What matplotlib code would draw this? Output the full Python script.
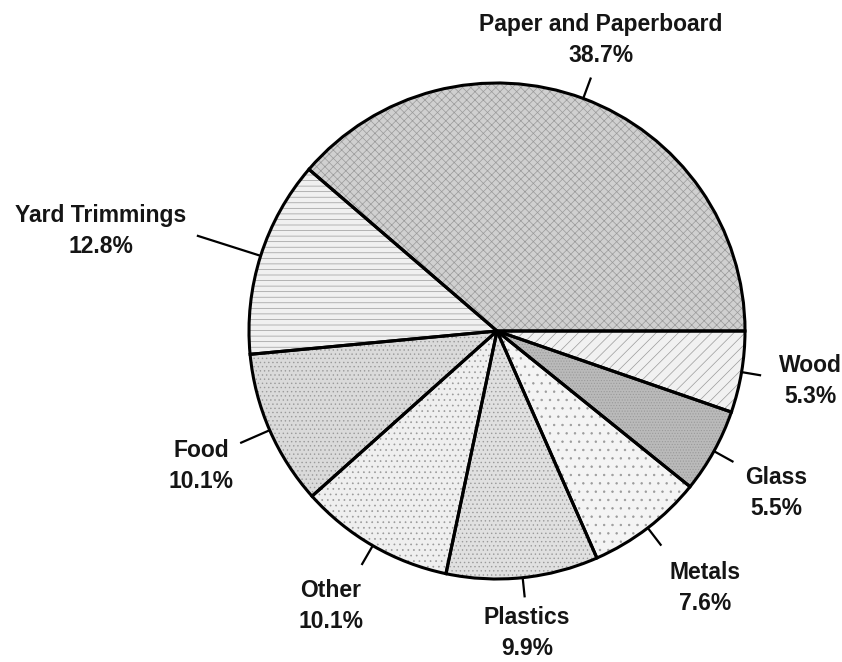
import matplotlib
matplotlib.use("Agg")
import matplotlib.pyplot as plt
import numpy as np

categories = ["Paper and Paperboard", "Yard Trimmings", "Food", "Other",
              "Plastics", "Metals", "Glass", "Wood"]
values = [38.7, 12.8, 10.1, 10.1, 9.9, 7.6, 5.5, 5.3]
value_labels = ["38.7%", "12.8%", "10.1%", "10.1%", "9.9%", "7.6%", "5.5%", "5.3%"]

# styling / layout (not data)
face_colors = ["#d0d0d0", "#f0f0f0", "#dadada", "#efefef", "#e0e0e0", "#f4f4f4", "#bababa", "#f1f1f1"]
hatches = ["xxxx", "---", "....", "...", "....", "..", "......", "///"]
label_xy = [(601, 40), (101, 231), (201, 466), (331, 606),
            (527, 633), (705, 588), (776, 493), (810, 381)]   # pixel centres of labels
leader_end = [1.09, 1.27, 1.13, 1.09, 1.08, 1.09, 1.09, 1.08]

W, H = 842, 662
fig = plt.figure(figsize=(W / 100, H / 100), dpi=100)
ax = fig.add_axes([0, 0, 1, 1])

cx, cy, R = 497, H - 331, 248

plt.rcParams["hatch.linewidth"] = 0.5
wedges, _ = ax.pie(values, startangle=0, counterclock=True, center=(cx, cy), radius=R,
                   colors=face_colors, wedgeprops=dict(edgecolor="#9a9a9a", linewidth=0),
                   frame=True)
for w, h in zip(wedges, hatches):
    w.set_hatch(h)
ax.pie(values, startangle=0, counterclock=True, center=(cx, cy), radius=R,
       colors=["none"] * len(values), wedgeprops=dict(edgecolor="black", linewidth=2.2),
       frame=True)
ax.set_xlim(0, W)
ax.set_ylim(0, H)
ax.set_aspect("equal")
ax.axis("off")

font = ["Liberation Sans", "DejaVu Sans"]
for w, cat, vl, (lx, ly), le in zip(wedges, categories, value_labels, label_xy, leader_end):
    ang = np.deg2rad((w.theta1 + w.theta2) / 2)
    ux, uy = np.cos(ang), np.sin(ang)
    ax.plot([cx + R * ux, cx + R * le * ux], [cy + R * uy, cy + R * le * uy],
            color="black", lw=1.6, solid_capstyle="butt")
    ax.text(lx, H - ly, cat + "\n" + vl, ha="center", va="center", family=font,
            fontweight="bold", fontsize=16.5, linespacing=1.4, color="#151515")

fig.savefig("out.png", dpi=100)
